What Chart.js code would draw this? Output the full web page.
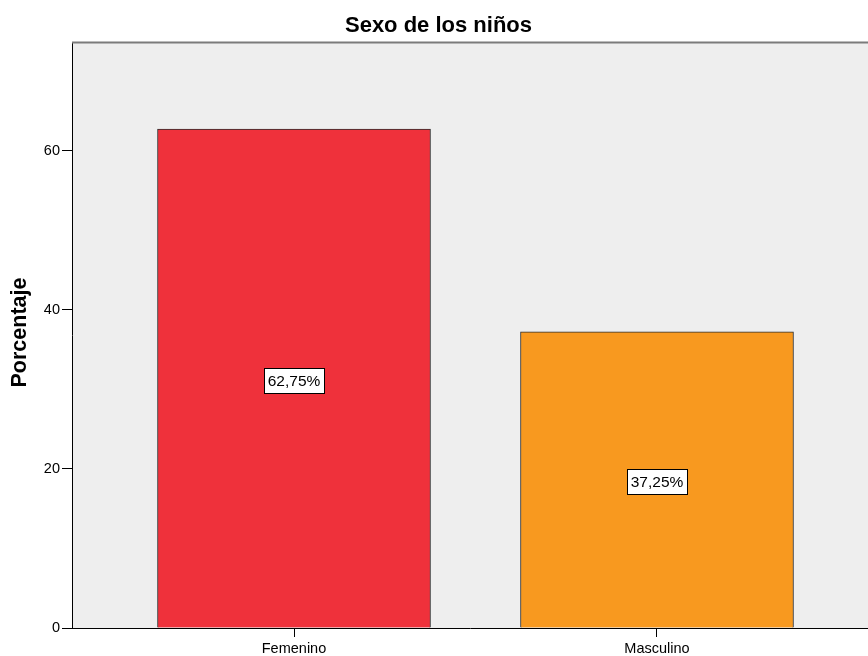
<!DOCTYPE html>
<html>
<head>
<meta charset="utf-8">
<script src="https://cdn.jsdelivr.net/npm/chart.js@4"></script>
<style>
  html, body { margin: 0; padding: 0; background: #ffffff; overflow: hidden; }
  canvas { display: block; }
</style>
</head>
<body>
<canvas id="chart" width="868" height="656"></canvas>
<script>
// Sexo de los niños — porcentaje por categoría
const categories = ['Femenino', 'Masculino'];
const percentages = [62.75, 37.25];
const barColors = ['#EF313B', '#F8991F'];
const yTickValues = [0, 20, 40, 60];

const FONT = '"Liberation Sans", Arial, sans-serif';

function formatPct(v) {
  return v.toFixed(2).replace('.', ',') + '%';
}

// Plot background, frame top line, titles and value boxes
const decorations = {
  id: 'decorations',
  beforeDraw(chart) {
    const { ctx, chartArea: a } = chart;
    ctx.save();
    ctx.fillStyle = '#EEEEEE';
    ctx.fillRect(a.left, a.top, a.right - a.left, a.bottom - a.top);
    ctx.restore();
  },
  afterDraw(chart) {
    const { ctx, chartArea: a } = chart;
    ctx.save();
    // top frame line
    ctx.strokeStyle = '#7B7B7B';
    ctx.lineWidth = 2;
    ctx.beginPath();
    ctx.moveTo(a.left, a.top + 0.5);
    ctx.lineTo(a.right + 2, a.top + 0.5);
    ctx.stroke();

    // main title
    ctx.fillStyle = '#000';
    ctx.font = 'bold 22px ' + FONT;
    ctx.textAlign = 'center';
    ctx.textBaseline = 'alphabetic';
    ctx.fillText('Sexo de los niños', 438.5, 32);

    // y axis title
    ctx.save();
    ctx.translate(26, 332.5);
    ctx.rotate(-Math.PI / 2);
    ctx.font = 'bold 21.5px ' + FONT;
    ctx.fillText('Porcentaje', 0, 0);
    ctx.restore();

    // value boxes centred on each bar
    const meta = chart.getDatasetMeta(0);
    const yScale = chart.scales.y;
    ctx.font = '15.5px ' + FONT;
    ctx.textAlign = 'center';
    ctx.textBaseline = 'middle';
    meta.data.forEach((bar, i) => {
      const v = percentages[i];
      const label = formatPct(v);
      const cx = bar.x;
      const cy = yScale.getPixelForValue(v / 2) + 2;
      const w = Math.round(ctx.measureText(label).width + 7);
      const h = 25;
      const x0 = Math.round(cx - w / 2) + 0.5;
      const y0 = Math.round(cy - h / 2) + 0.5;
      ctx.fillStyle = '#FFFFFF';
      ctx.fillRect(x0, y0, w, h);
      ctx.strokeStyle = '#000';
      ctx.lineWidth = 1;
      ctx.strokeRect(x0, y0, w, h);
      ctx.fillStyle = '#000';
      ctx.fillText(label, cx, cy + 1);
    });
    ctx.restore();
  }
};

new Chart(document.getElementById('chart'), {
  type: 'bar',
  data: {
    datasets: [{
      data: percentages.map((v, i) => ({ x: i, y: v })),
      backgroundColor: barColors,
      borderColor: '#2E2E2E',
      borderWidth: 1,
      borderSkipped: 'bottom',
      barThickness: 273
    }]
  },
  plugins: [decorations],
  options: {
    responsive: false,
    animation: false,
    events: [],
    layout: { padding: { top: 42, right: 0, bottom: 0, left: 0 } },
    plugins: {
      legend: { display: false },
      title: { display: false },
      tooltip: { enabled: false }
    },
    scales: {
      x: {
        type: 'linear',
        offset: false,
        min: -0.6116,
        max: 1.5813,
        afterBuildTicks(scale) {
          scale.ticks = categories.map((_, i) => ({ value: i }));
        },
        afterFit(scale) { scale.height = 28; },
        grid: { display: true, drawOnChartArea: false, offset: false, tickLength: 9, color: '#000', tickWidth: 1 },
        border: { display: true, color: '#000', width: 1 },
        ticks: {
          autoSkip: false,
          maxRotation: 0,
          padding: 3,
          color: '#000',
          font: { family: FONT, size: 14.5 },
          callback: (v) => categories[v]
        }
      },
      y: {
        min: 0,
        max: 73.7,
        afterBuildTicks(scale) {
          scale.ticks = yTickValues.map(v => ({ value: v }));
        },
        afterFit(scale) { scale.width = 72; },
        grid: { display: true, drawOnChartArea: false, tickLength: 10, color: '#000', tickWidth: 1 },
        border: { display: true, color: '#000', width: 1 },
        ticks: {
          padding: 2,
          color: '#000',
          font: { family: FONT, size: 14.5 }
        }
      }
    }
  }
});
</script>
</body>
</html>
